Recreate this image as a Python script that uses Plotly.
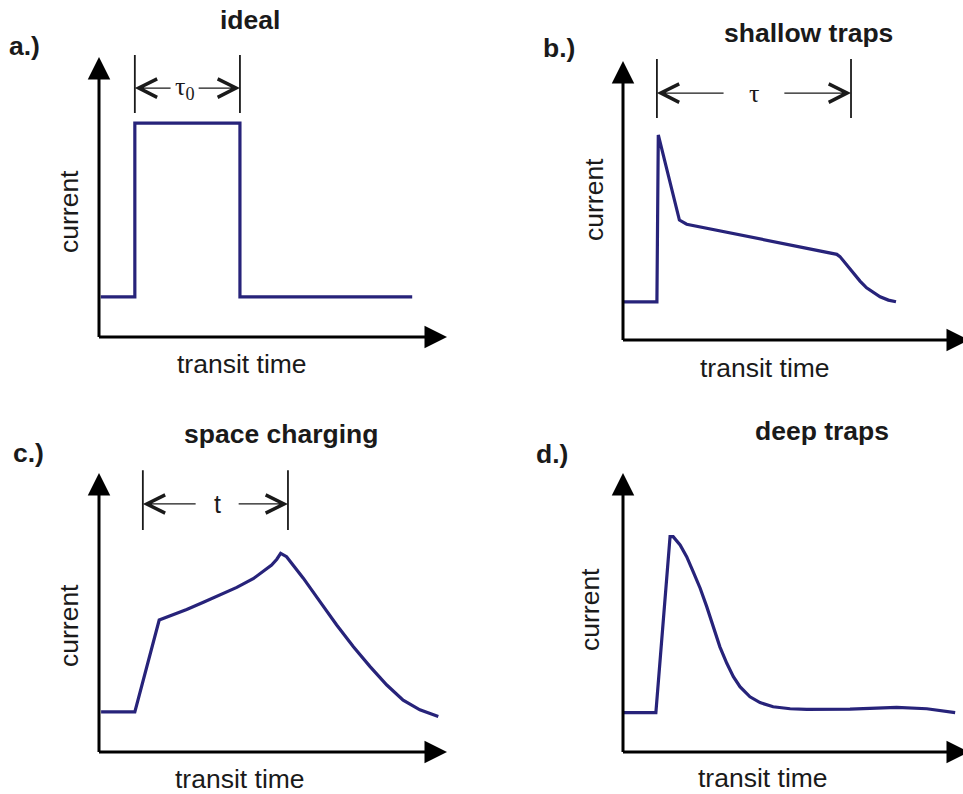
import plotly.graph_objects as go

W, H = 963, 794

# ---------------- data (arbitrary units: time 0..10, current 0..10) ----------------
a_time = [0.05, 1.03, 1.03, 4.05, 4.05, 9.0]
a_current = [1.43, 1.43, 7.64, 7.64, 1.43, 1.43]

b_time = [0.0, 0.98, 1.02, 1.63, 1.84, 6.18, 6.27, 6.47, 6.66, 6.85, 7.04, 7.23, 7.43, 7.67, 7.89]
b_current = [1.37, 1.37, 7.35, 4.30, 4.15, 3.07, 2.99, 2.69, 2.39, 2.11, 1.87, 1.70, 1.55, 1.43, 1.37]

c_time = [0.06, 1.03, 1.73, 2.04, 2.52, 3.00, 3.48, 3.96, 4.43, 4.72, 4.96, 5.11, 5.22,
          5.39, 5.87, 6.35, 6.83, 7.31, 7.79, 8.27, 8.74, 9.22, 9.75]
c_current = [1.44, 1.44, 4.73, 4.87, 5.11, 5.37, 5.63, 5.90, 6.21, 6.46, 6.70, 6.91, 7.12,
             7.00, 6.23, 5.39, 4.55, 3.77, 3.06, 2.40, 1.86, 1.51, 1.27]

d_time = [0.0, 0.95, 1.36, 1.45, 1.65, 1.84, 2.03, 2.23, 2.42, 2.61, 2.80, 3.00, 3.19, 3.38,
          3.67, 3.96, 4.34, 4.83, 5.31, 6.56, 7.91, 8.78, 9.31, 9.60]
d_current = [1.41, 1.41, 7.72, 7.72, 7.42, 7.00, 6.46, 5.87, 5.21, 4.49, 3.77, 3.18, 2.70, 2.34,
             1.98, 1.77, 1.62, 1.55, 1.53, 1.54, 1.60, 1.55, 1.47, 1.41]

titles = ["ideal", "shallow traps", "space charging", "deep traps"]
letters = ["a.)", "b.)", "c.)", "d.)"]
y_label = "current"
x_label = "transit time"

# transit-time markers (start, end) and their labels (panels a, b, c)
transit_a = [1.03, 4.05]
transit_b = [0.98, 6.59]
transit_c = [1.26, 5.43]
transit_labels = ["τ<sub>0</sub>", "τ", "t"]

# ---------------- layout geometry ----------------
CURVE = "#27237a"
INK = "#1a1a1a"
FONT = "Liberation Sans, Arial, sans-serif"
SERIF = "Liberation Serif, Times New Roman, serif"
TXT = 26.5

# pixel origin of each panel's axes and pixels per unit
panels = [
    dict(ox=99, oy=337, sx=34.8, sy=28.0),
    dict(ox=623, oy=340, sx=34.6, sy=27.9),
    dict(ox=99, oy=752, sx=34.8, sy=27.9),
    dict(ox=623, oy=752, sx=34.6, sy=27.9),
]
series = [(a_time, a_current), (b_time, b_current), (c_time, c_current), (d_time, d_current)]

fig = go.Figure()
layout_axes = {}
annotations = []


def px(x):
    return x / W


def py(y):
    return 1 - y / H


for i, p in enumerate(panels):
    n = "" if i == 0 else str(i + 1)
    xmin, ymin, ymax = -0.3, -0.3, 10.4
    xmax = min(10.3, (W - p["ox"]) / p["sx"] - 0.01)
    xd = [(p["ox"] + p["sx"] * xmin) / W, (p["ox"] + p["sx"] * xmax) / W]
    yd = [1 - (p["oy"] - p["sy"] * ymin) / H, 1 - (p["oy"] - p["sy"] * ymax) / H]
    layout_axes["xaxis" + n] = dict(domain=xd, range=[xmin, xmax], visible=False, fixedrange=True,
                                    anchor="y" + n)
    layout_axes["yaxis" + n] = dict(domain=yd, range=[ymin, ymax], visible=False, fixedrange=True,
                                    anchor="x" + n)
    t, c = series[i]
    fig.add_trace(go.Scatter(x=t, y=c, mode="lines", line=dict(color=CURVE, width=3.2),
                             xaxis="x" + n, yaxis="y" + n, hoverinfo="skip"))
    # axis arrows
    tail_x = -1.5 / p["sx"]
    tail_y = -1.5 / p["sy"]
    common = dict(xref="x" + n, yref="y" + n, axref="x" + n, ayref="y" + n, text="",
                  showarrow=True, arrowhead=2, arrowsize=1.5, arrowwidth=3, arrowcolor="black")
    annotations.append(dict(x=10.0, y=0, ax=tail_x, ay=0, **common))
    annotations.append(dict(x=0, y=10.0, ax=0, ay=tail_y, **common))

# transit-time brackets
brackets = [
    dict(panel=0, span=transit_a, lo=8.0, hi=10.07, yarr=8.89, gap=[2.10, 2.82]),
    dict(panel=1, span=transit_b, lo=7.96, hi=10.07, yarr=8.85, gap=[2.95, 4.62]),
    dict(panel=2, span=transit_c, lo=7.96, hi=10.10, yarr=8.89, gap=[2.82, 3.97]),
]
for k, b in enumerate(brackets):
    i = b["panel"]
    n = "" if i == 0 else str(i + 1)
    s0, s1 = b["span"]
    fig.add_trace(go.Scatter(x=[s0, s0, None, s1, s1], y=[b["lo"], b["hi"], None, b["lo"], b["hi"]],
                             mode="lines", line=dict(color=INK, width=1.8),
                             xaxis="x" + n, yaxis="y" + n, hoverinfo="skip"))
    common = dict(xref="x" + n, yref="y" + n, axref="x" + n, ayref="y" + n, text="",
                  showarrow=True, arrowhead=5, arrowsize=3.0, arrowwidth=1.2, arrowcolor=INK)
    annotations.append(dict(x=s0, y=b["yarr"], ax=b["gap"][0], ay=b["yarr"], **common))
    annotations.append(dict(x=s1, y=b["yarr"], ax=b["gap"][1], ay=b["yarr"], **common))
    lab_font = dict(family=SERIF, size=26, color=INK) if k < 2 else dict(family=FONT, size=25, color=INK)
    annotations.append(dict(x=(b["gap"][0] + b["gap"][1]) / 2, y=b["yarr"], xref="x" + n, yref="y" + n,
                            text=transit_labels[k], showarrow=False, font=lab_font,
                            xanchor="center", yanchor="middle"))

# text labels (pixel positions of centres)
title_pos = [(250, 20), (808, 33), (281, 434), (822, 431)]
letter_pos = [(24, 46), (559, 48), (28, 453), (552, 454)]
ylab_pos = [(69, 212), (594, 200), (69, 626), (590, 610)]
xlab_pos = [(242, 364), (765, 368), (240, 779), (763, 778)]

for i in range(4):
    annotations.append(dict(x=px(title_pos[i][0]), y=py(title_pos[i][1]), xref="paper", yref="paper",
                            text="<b>%s</b>" % titles[i], showarrow=False,
                            font=dict(family=FONT, size=TXT, color=INK),
                            xanchor="center", yanchor="middle"))
    annotations.append(dict(x=px(letter_pos[i][0]), y=py(letter_pos[i][1]), xref="paper", yref="paper",
                            text="<b>%s</b>" % letters[i], showarrow=False,
                            font=dict(family=FONT, size=TXT, color=INK),
                            xanchor="center", yanchor="middle"))
    annotations.append(dict(x=px(ylab_pos[i][0]), y=py(ylab_pos[i][1]), xref="paper", yref="paper",
                            text=y_label, textangle=-90, showarrow=False,
                            font=dict(family=FONT, size=TXT, color=INK),
                            xanchor="center", yanchor="middle"))
    annotations.append(dict(x=px(xlab_pos[i][0]), y=py(xlab_pos[i][1]), xref="paper", yref="paper",
                            text=x_label, showarrow=False,
                            font=dict(family=FONT, size=TXT, color=INK),
                            xanchor="center", yanchor="middle"))

fig.update_layout(
    width=W, height=H,
    margin=dict(l=0, r=0, t=0, b=0),
    paper_bgcolor="white", plot_bgcolor="white",
    showlegend=False,
    annotations=annotations,
    **layout_axes,
)

fig.write_html("out.html", config={"displayModeBar": False})
